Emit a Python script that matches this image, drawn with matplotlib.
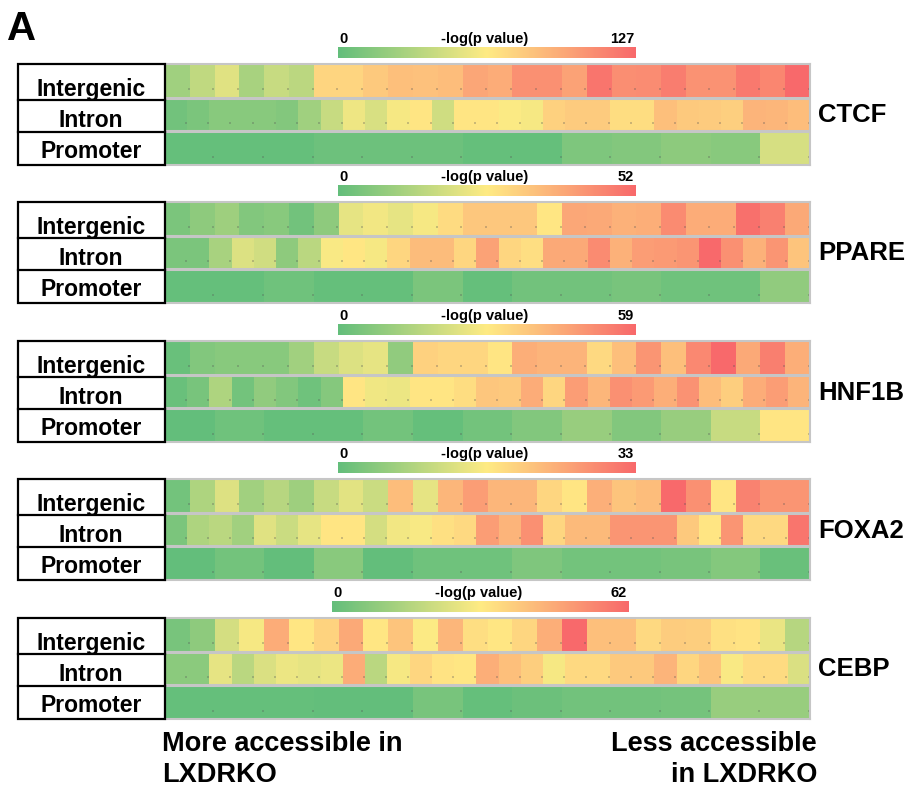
import numpy as np
import matplotlib
matplotlib.use("Agg")
import matplotlib.pyplot as plt
from matplotlib.colors import LinearSegmentedColormap, Normalize
from matplotlib.patches import Rectangle

plt.rcParams['font.family'] = ['Liberation Sans', 'DejaVu Sans']
plt.rcParams['font.weight'] = 'bold'

# ---------------- data ----------------
factors = ["CTCF", "PPARE", "HNF1B", "FOXA2", "CEBP"]
regions = ["Intergenic", "Intron", "Promoter"]
scale_max = [127, 52, 59, 33, 62]

ctcf_intergenic = [25, 38, 51, 28, 41, 36, 74, 74, 80, 85, 84, 86, 97, 94, 108, 108, 99, 121, 109, 110, 117, 107, 107, 119, 113, 127]
ctcf_intron = [6, 10, 15, 15, 15, 13, 25, 41, 57, 48, 60, 66, 44, 66, 66, 62, 60, 76, 79, 79, 70, 70, 85, 80, 79, 77, 90, 89, 86]
ctcf_promoter = [1, 1, 1, 4, 4, 4, 1, 1, 11, 13, 17, 15, 47]

ppare_intergenic = [4.2, 7.3, 9.9, 5.2, 6.2, 2.6, 7.3, 21.8, 23.9, 21.8, 24.4, 29.1, 33.3, 33.3, 33.3, 27.0, 39.5, 39.0, 37.4, 38.0, 45.2, 38.5, 38.5, 50.4, 47.3, 39.0]
ppare_intron = [4.2, 4.2, 11.4, 20.3, 18.2, 7.3, 14.6, 25.0, 27.0, 24.4, 30.2, 35.4, 35.4, 30.2, 40.6, 30.2, 28.6, 39.0, 39.0, 45.2, 37.4, 41.6, 42.1, 43.2, 52.0, 44.2, 37.4, 43.2, 33.8]
ppare_promoter = [0.5, 0.5, 2.1, 0.5, 0.5, 4.2, 0.5, 2.6, 2.6, 3.6, 2.1, 2.1, 7.8]

hnf1b_intergenic = [1.2, 5.9, 7.1, 7.1, 7.1, 11.8, 18.9, 23.0, 24.8, 8.9, 35.4, 34.2, 34.2, 30.7, 43.1, 41.9, 41.9, 33.6, 39.5, 49.0, 39.5, 51.9, 59.0, 44.3, 53.7, 43.1]
hnf1b_intron = [1.2, 4.1, 14.2, 3.0, 8.9, 5.9, 2.4, 6.5, 30.7, 26.6, 26.0, 30.7, 30.7, 32.5, 37.8, 37.2, 43.7, 34.2, 47.2, 41.3, 50.2, 47.8, 43.1, 49.6, 40.1, 36.0, 43.7, 47.2, 41.9]
hnf1b_promoter = [0.0, 2.4, 0.6, 0.6, 3.0, 0.6, 3.0, 5.9, 10.0, 5.9, 10.0, 18.9, 30.7]

foxa2_intergenic = [1.7, 7.9, 12.9, 6.6, 8.9, 6.3, 10.6, 13.5, 10.9, 22.4, 13.9, 23.1, 26.4, 23.1, 23.1, 19.1, 17.2, 24.1, 21.5, 22.4, 33.0, 28.1, 17.2, 29.7, 27.4, 27.4]
foxa2_intron = [2.6, 7.9, 9.2, 6.6, 13.2, 10.9, 13.9, 17.2, 17.2, 11.9, 15.2, 15.8, 17.8, 18.8, 26.4, 23.4, 28.1, 19.1, 22.8, 22.8, 27.4, 27.4, 27.4, 20.8, 17.2, 27.4, 18.8, 18.8, 31.4]
foxa2_promoter = [0.0, 1.7, 0.0, 4.0, 0.0, 1.3, 1.3, 3.0, 1.7, 1.7, 2.3, 3.6, 0.7]

cebp_intergenic = [4.3, 8.7, 22.3, 29.1, 45.9, 32.2, 36.6, 46.5, 32.2, 40.3, 30.4, 43.4, 34.1, 32.2, 36.0, 45.3, 62.0, 41.5, 41.5, 35.3, 38.4, 37.8, 33.5, 32.9, 26.7, 16.7]
cebp_intron = [8.1, 8.1, 26.0, 17.4, 23.6, 27.3, 26.0, 27.3, 45.9, 17.4, 29.1, 36.0, 32.9, 32.2, 45.3, 41.5, 37.8, 29.1, 35.3, 35.3, 39.1, 39.1, 44.0, 36.0, 40.3, 29.8, 34.7, 34.7, 23.6]
cebp_promoter = [0.6, 0.6, 0.6, 0.0, 0.0, 4.3, 0.6, 1.9, 3.1, 3.1, 3.7, 10.5, 10.5]

panels = [
    [ctcf_intergenic, ctcf_intron, ctcf_promoter],
    [ppare_intergenic, ppare_intron, ppare_promoter],
    [hnf1b_intergenic, hnf1b_intron, hnf1b_promoter],
    [foxa2_intergenic, foxa2_intron, foxa2_promoter],
    [cebp_intergenic, cebp_intron, cebp_promoter],
]
scale_label = "-log(p value)"
left_note = ["More accessible in", "LXDRKO"]
right_note = ["Less accessible", "in LXDRKO"]

# ---------------- layout (pixels) ----------------
W, H = 908, 790
fig = plt.figure(figsize=(W / 100, H / 100), dpi=100)
cmap = LinearSegmentedColormap.from_list("excel3", ["#63BE7B", "#FFEB84", "#F8696B"])

def px_axes(x0, y0, x1, y1):
    return fig.add_axes([x0 / W, 1 - y1 / H, (x1 - x0) / W, (y1 - y0) / H])

overlay = px_axes(0, 0, W, H)
overlay.set_xlim(0, W)
overlay.set_ylim(H, 0)
overlay.axis("off")
overlay.set_zorder(5)
overlay.patch.set_alpha(0)

tops = [64, 202, 341, 479, 618]
ph = 101
hx0, hx1 = 165, 810
cbar_x = [(338, 636), (338, 636), (338, 636), (338, 636), (332, 629)]
# row boundaries (fraction of the 3-row block)
row_edges = [0.0, 1.0, 2.0, 3.0]

for k, (name, rows, vmax, top) in enumerate(zip(factors, panels, scale_max, tops)):
    norm = Normalize(0, vmax)
    ax = px_axes(hx0, top, hx1, top + ph)
    ax.set_xlim(0, 1)
    ax.set_ylim(3, 0)
    for r, vals in enumerate(rows):
        n = len(vals)
        xe = np.linspace(0, 1, n + 1)
        ax.pcolormesh(xe, [r, r + 1], np.array(vals)[None, :], cmap=cmap, norm=norm,
                      shading="flat", edgecolors="none")
        ax.scatter(xe[1:] - 0.002, np.full(n, r + 0.75), s=0.7, marker="s",
                   color="#555555", alpha=0.3, linewidths=0)
    for yy in (1, 2):
        ax.axhline(yy, color="#C6C6C6", lw=2.2)
    ax.set_xticks([])
    ax.set_yticks([])
    for s in ax.spines.values():
        s.set_color("#C6C6C6")
        s.set_linewidth(1.5)

    # label box
    overlay.add_patch(Rectangle((18, top), hx0 - 18, ph, fill=False, ec="black", lw=1.6))
    for yy in (top + 36, top + 68):
        overlay.plot([18, hx0], [yy, yy], color="black", lw=1.6)
    for lab, dy in zip(regions, (32, 63, 94)):
        overlay.text(91, top + dy, lab, ha="center", va="baseline", fontsize=16.5,
                     fontweight="bold", color="black")

    # factor name
    overlay.text(818, top + ph / 2 + 1, name, ha="left", va="center", fontsize=18.5,
                 fontweight="bold", color="black")

    # colour scale
    cx0, cx1 = cbar_x[k]
    cax = px_axes(cx0, top - 17, cx1, top - 6)
    cax.imshow(np.linspace(0, vmax, 256)[None, :], cmap=cmap, norm=norm,
               aspect="auto", extent=(0, 1, 0, 1))
    cax.axis("off")
    overlay.text(cx0 + 1, top - 21, "0", ha="left", va="baseline", fontsize=10.5,
                 fontweight="bold")
    overlay.text((cx0 + cx1) / 2 - 2, top - 21, scale_label, ha="center", va="baseline",
                 fontsize=10.5, fontweight="bold")
    overlay.text(cx1 - 2, top - 21, str(vmax), ha="right", va="baseline", fontsize=10.5,
                 fontweight="bold")

overlay.text(7, 40, "A", ha="left", va="baseline", fontsize=29, fontweight="bold")
overlay.text(162, 751, left_note[0], ha="left", va="baseline", fontsize=19.5, fontweight="bold")
overlay.text(162, 782, left_note[1], ha="left", va="baseline", fontsize=19.5, fontweight="bold")
overlay.text(817, 751, right_note[0], ha="right", va="baseline", fontsize=19.5, fontweight="bold")
overlay.text(817, 782, right_note[1], ha="right", va="baseline", fontsize=19.5, fontweight="bold")

fig.savefig("out.png", dpi=100, facecolor="white")
